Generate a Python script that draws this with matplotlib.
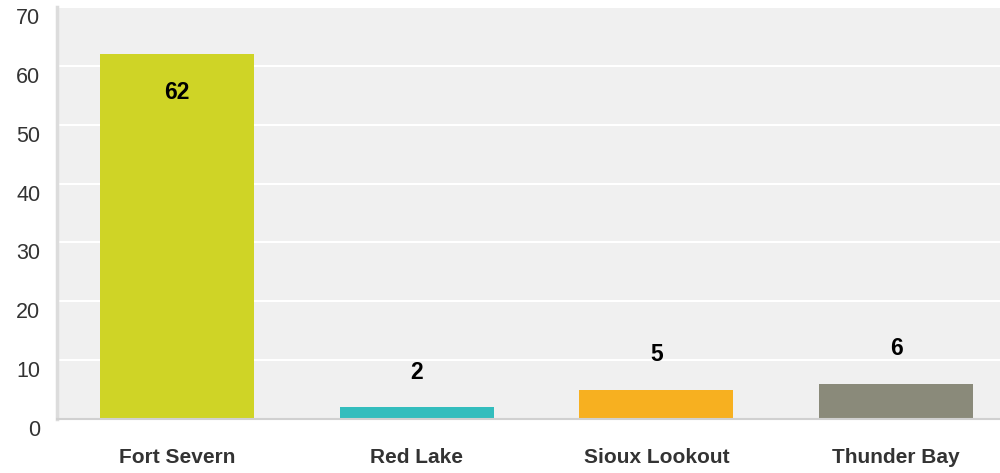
import matplotlib.pyplot as plt
import matplotlib.transforms as mtransforms

# data
categories = ["Fort Severn", "Red Lake", "Sioux Lookout", "Thunder Bay"]
values = [62, 2, 5, 6]
colors = ["#cfd426", "#33bdbd", "#f7b020", "#8a8a7a"]
yticks = [0, 10, 20, 30, 40, 50, 60, 70]

plt.rcParams['font.family'] = ['Liberation Sans', 'DejaVu Sans']

fig = plt.figure(figsize=(10, 4.73), dpi=100)
ax = fig.add_axes([0.057, 54 / 473, 1 - 0.057, (419 - 7) / 473])
ax.set_facecolor("#f0f0f0")

x = list(range(len(categories)))
ax.bar(x, values, width=0.642, color=colors, zorder=3)

ax.set_ylim(0, 70)
ax.set_xlim(-0.5, 3.433)
ax.set_yticks(yticks)
ax.set_xticks(x)
ax.set_xticklabels(categories, fontweight="bold", fontsize=15, color="#333333")
ax.grid(axis="y", color="white", linewidth=1.5, zorder=1)
ax.tick_params(axis="y", length=0, pad=12, labelsize=15.5, labelcolor="#333333")
ax.tick_params(axis="x", length=0, pad=21)

# shift y labels a little below their gridlines, as in the original
offset = mtransforms.ScaledTranslation(0, -9 / 100, fig.dpi_scale_trans)
for lab in ax.get_yticklabels():
    lab.set_transform(lab.get_transform() + offset)

for s in ["top", "right"]:
    ax.spines[s].set_visible(False)
ax.spines["left"].set_color("#dcdcdc")
ax.spines["left"].set_linewidth(2.5)
ax.spines["bottom"].set_color("#d0d0d0")
ax.spines["bottom"].set_linewidth(1.5)
ax.spines["bottom"].set_zorder(4)

# value labels
for xi, v in zip(x, values):
    if v > 20:
        ax.text(xi, v - 6.1, str(v), ha="center", va="center_baseline",
                fontweight="bold", fontsize=16.5, color="black", zorder=5)
    else:
        ax.text(xi, v + 6.4, str(v), ha="center", va="center_baseline",
                fontweight="bold", fontsize=16.5, color="black", zorder=5)

fig.savefig("out.png", dpi=100)
